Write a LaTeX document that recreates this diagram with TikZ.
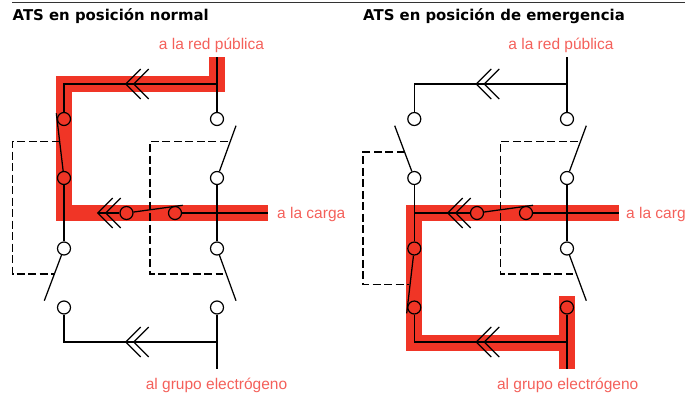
\documentclass[tikz,border=0pt]{standalone}
\usepackage{fontspec}
\setmainfont{Liberation Sans}
\newfontfamily\titlefont{DejaVu Sans}
\definecolor{bandred}{HTML}{F03526}
\definecolor{labelred}{HTML}{F4605A}
\begin{document}
\begin{tikzpicture}[
        x=1pt,y=-1pt,
        band/.style={draw=bandred,line width=16pt,miter limit=10},
        wire/.style={draw=black,line width=1.25pt},
        link/.style={draw=black,line width=1.1pt,dash pattern=on 8pt off 3.5pt},
        terminal/.style={circle,draw=black,line width=1.2pt,fill=white,minimum size=13pt,inner sep=0pt},
        live/.style={terminal,fill=bandred},
        caption/.style={font=\titlefont\bfseries\fontsize{14.9pt}{16pt}\selectfont,inner sep=0pt,anchor=base west},
        tag/.style={text=labelred,font=\fontsize{15.5pt}{17pt}\selectfont,inner sep=0pt,anchor=base},
        chevron/.pic={
                \draw[wire] (15,-15) -- (0,0) -- (15,15);
                \draw[wire] (23,-15) -- (8,0) -- (23,15);
            }
    ]
    \useasboundingbox (0,0) rectangle (696,394);
    \coordinate (ruleA) at (12,2.5);
    \coordinate (ruleB) at (685,2.5);
    \draw[line width=1.2pt,black!80] (ruleA) -- (ruleB);
    \node[caption] (titleA) at (12.5,20.7) {ATS en posición normal};
    \node[caption] (titleB) at (363,20.7) {ATS en posición de emergencia};

    \draw[band] (217,57) -- (217,84) -- (64,84) -- (64,213) -- (268,213);
    \node[live] (a1) at (64,119) {};
    \node[live] (a2) at (64,178) {};
    \node[terminal] (a3) at (64,248.5) {};
    \node[terminal] (a4) at (64,307.5) {};
    \node[terminal] (b1) at (217,119) {};
    \node[terminal] (b2) at (217,178) {};
    \node[terminal] (b3) at (217,248.5) {};
    \node[terminal] (b4) at (217,307.5) {};
    \node[live] (c1) at (126.5,213) {};
    \node[live] (c2) at (175,213) {};
    \coordinate (aTop) at (217,57);
    \coordinate (aJoin) at (217,84);
    \coordinate (aCorner) at (64,84);
    \coordinate (aLoad) at (268,213);
    \coordinate (aTip) at (97.7,213);
    \coordinate (aBottom) at (217,369);
    \coordinate (aJoinB) at (217,342);
    \coordinate (aCornerB) at (64,342);
    \draw[wire] (aTop) -- (b1);
    \draw[wire] (aJoin) -- (aCorner) -- (a1);
    \draw[wire] (a2) -- (a3);
    \draw[wire] (b2) -- (b3);
    \draw[wire] (aTip) -- (c1);
    \draw[wire] (c2) -- (aLoad);
    \draw[wire] (b4) -- (aBottom);
    \draw[wire] (aJoinB) -- (aCornerB) -- (a4);
    \draw[wire] (a2) -- (56.3,113.3);
    \draw[wire] (b2) -- (236,125.7);
    \draw[wire] (a3) -- (44.3,300.7);
    \draw[wire] (b3) -- (236,300.7);
    \draw[wire] (c1) -- (182.7,205.3);
    \draw[link] (59.7,141.3) -- (12.5,141.3) -- (12.5,274) -- (54.3,274);
    \draw[link] (227.7,141.3) -- (150,141.3) -- (150,274) -- (223,274);
    \pic at (125.7,84) {chevron};
    \pic at (97.7,213) {chevron};
    \pic at (125.7,342) {chevron};
    \node[tag] (redA) at (211.5,49) {a la red pública};
    \node[tag,anchor=base west] (loadA) at (277,218.5) {a la carga};
    \node[tag] (genA) at (216.5,389.5) {al grupo electrógeno};

    \draw[band] (619,213) -- (414.3,213) -- (414.3,342.5) -- (567,342.5);
    \draw[band] (567,296) -- (567,369);
    \node[terminal] (d1) at (414.3,119) {};
    \node[terminal] (d2) at (414.3,178) {};
    \node[live] (d3) at (414.3,248.5) {};
    \node[live] (d4) at (414.3,307.5) {};
    \node[terminal] (e1) at (567,119) {};
    \node[terminal] (e2) at (567,178) {};
    \node[terminal] (e3) at (567,248.5) {};
    \node[live] (e4) at (567,307.5) {};
    \node[live] (f1) at (477,213) {};
    \node[live] (f2) at (526,213) {};
    \coordinate (dTop) at (567,57);
    \coordinate (dJoin) at (567,84);
    \coordinate (dCorner) at (414.3,84);
    \coordinate (dLoad) at (619,213);
    \coordinate (dTee) at (414.3,213);
    \coordinate (dBottom) at (567,369);
    \coordinate (dJoinB) at (567,342);
    \coordinate (dCornerB) at (414.3,342);
    \draw[wire] (dTop) -- (e1);
    \draw[wire] (dJoin) -- (dCorner) -- (d1);
    \draw[wire] (d2) -- (d3);
    \draw[wire] (e2) -- (e3);
    \draw[wire] (dTee) -- (f1);
    \draw[wire] (f2) -- (dLoad);
    \draw[wire] (e4) -- (dBottom);
    \draw[wire] (dJoinB) -- (dCornerB) -- (d4);
    \draw[wire] (d2) -- (394.7,125.7);
    \draw[wire] (e2) -- (586.3,125.7);
    \draw[wire] (d3) -- (406.7,313.3);
    \draw[wire] (e3) -- (586.3,300.7);
    \draw[wire] (f1) -- (533,205.3);
    \draw[link] (404.7,152) -- (363,152) -- (363,284.7) -- (409,284.7);
    \draw[link] (578,141.3) -- (500.3,141.3) -- (500.3,274) -- (573.3,274);
    \pic at (476.3,84) {chevron};
    \pic at (447.7,213) {chevron};
    \pic at (476.3,342) {chevron};
    \node[tag] (redB) at (561,49) {a la red pública};
    \node[tag,anchor=base west] (loadB) at (626,218.5) {a la carg};
    \node[tag] (genB) at (567.7,389.5) {al grupo electrógeno};
\end{tikzpicture}
\end{document}
